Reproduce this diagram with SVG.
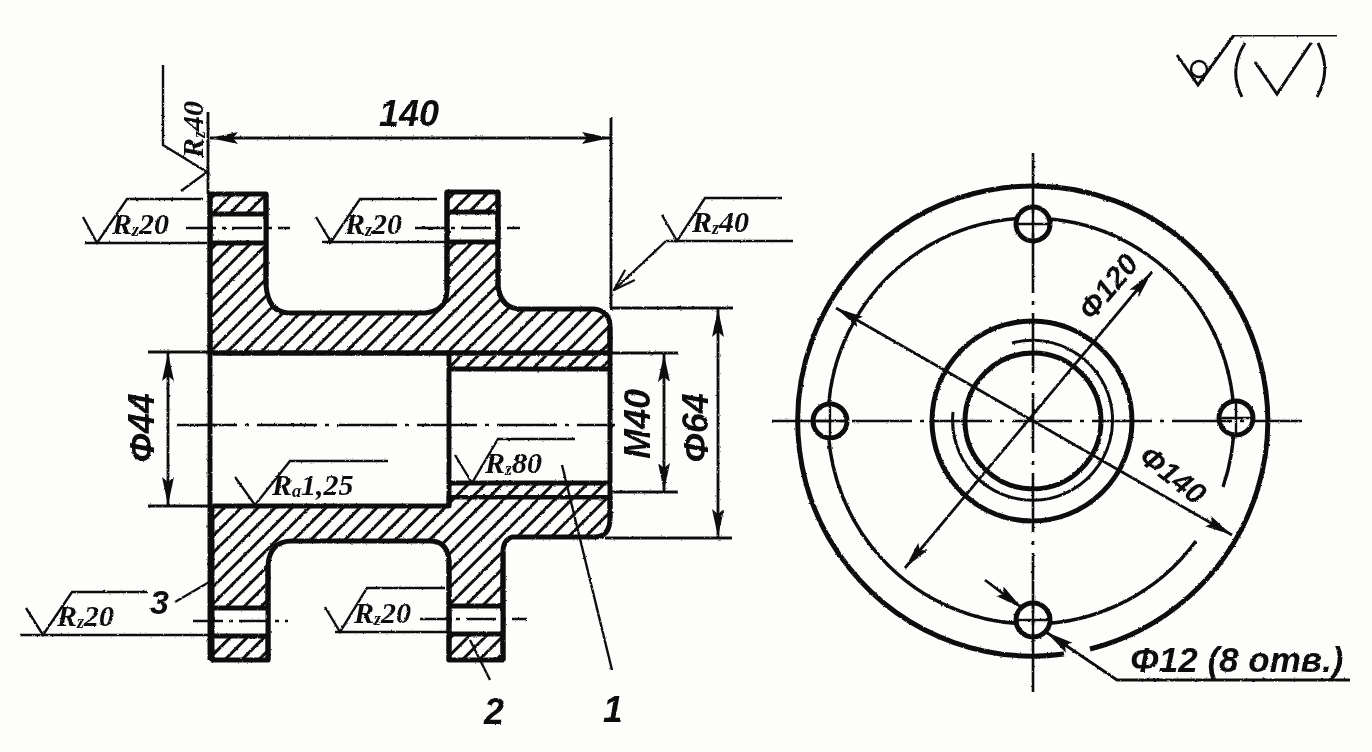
<svg xmlns="http://www.w3.org/2000/svg" width="1372" height="752" viewBox="0 0 1372 752">
<style>
.o{fill:none;stroke:#111;stroke-width:5;stroke-linejoin:round}
.t{fill:none;stroke:#111;stroke-width:2.8}
.m{fill:none;stroke:#111;stroke-width:2.4}
.c{fill:none;stroke:#111;stroke-width:2.6;stroke-dasharray:60 8 4 8}
.h{fill:none;stroke:#111;stroke-width:2.6;stroke-dasharray:30 6 4 6}
.x{fill:none;stroke:#111;stroke-width:2.4}
.r{font-family:"Liberation Serif",serif;font-weight:bold;font-style:italic;font-size:30px;fill:#111}
.d{font-family:"Liberation Sans",sans-serif;font-weight:bold;font-style:italic;font-size:36px;fill:#111}
.s{font-size:18px}
.w{fill:#fdfdfb;stroke:none}
</style>
<defs>
<pattern id="h" width="12" height="12" patternUnits="userSpaceOnUse" patternTransform="rotate(-45)">
<rect width="12" height="12" fill="#fdfdfb"/><rect width="12" height="3" fill="#111"/>
</pattern>
<marker id="a" viewBox="0 0 28 14" refX="28" refY="7" markerWidth="28" markerHeight="14" markerUnits="userSpaceOnUse" orient="auto-start-reverse"><path d="M0,1L28,7L0,13L5,7Z" fill="#111"/></marker>
<marker id="v" viewBox="0 0 24 16" refX="23" refY="8" markerWidth="24" markerHeight="16" markerUnits="userSpaceOnUse" orient="auto"><path d="M1,1L23,8L1,15" fill="none" stroke="#111" stroke-width="2.2"/></marker>
<filter id="rough" x="0" y="0" width="100%" height="100%"><feTurbulence type="fractalNoise" baseFrequency="0.35" numOctaves="2" seed="4"/><feDisplacementMap in="SourceGraphic" scale="2.2" xChannelSelector="R" yChannelSelector="G"/></filter>
</defs>
<rect width="1372" height="752" fill="#fdfdfb"/>

<g filter="url(#rough)">
<g id="section-view">
<path class="o" style="fill:url(#h)" d="M210,194H266V285Q268,312 288,313H425Q447,311 447,290V192H498V285Q500,308 520,309H594Q610,311 610,327V353H210Z"/>
<path class="o" style="fill:url(#h)" d="M212,506H449V497H610V518Q610,537 594,537H512Q503,540 503,552V660H449V560Q447,541 430,541H292Q270,541 268,565V660H212Z"/>
<rect class="w" x="213" y="216" width="51" height="27"/>
<rect class="w" x="450" y="214" width="45" height="28"/>
<rect class="w" x="215" y="608" width="51" height="28"/>
<rect class="w" x="452" y="606" width="49" height="28"/>
<path class="o" d="M210,214H266M210,243H266M447,212H498M447,242H498M212,608H268M212,636H268M449,606H503M449,634H503"/>
<path class="o" d="M210,194V660M266,194V285M447,192V290M498,192V285M268,565V660M449,560V660M503,552V660"/>
<rect x="450" y="356" width="159" height="12" style="fill:url(#h)"/>
<rect x="450" y="485" width="159" height="10" style="fill:url(#h)"/>
<path class="o" d="M449,353V505M449,369H610M449,483H610M610,327V518M210,353H610"/>
</g>

<g id="front-view">
<path class="o" d="M1064,654A235,235 0 1 1 1090,649"/>
<path class="o" style="stroke-width:3.5" d="M1223,487A203,203 0 1 0 1033,624A203,203 0 0 0 1196,541"/>
<circle class="o" cx="1032" cy="421" r="100"/>
<circle class="o" cx="1033" cy="421" r="68"/>
<path class="o" style="stroke-width:3" d="M1012,343A80,80 0 1 1 953,412"/>
<g id="hole-top"><circle class="o" style="fill:#fdfdfb" cx="1033" cy="224" r="17"/><path class="x" d="M1016,224H1050M1033,207V241"/></g>
<g id="hole-left"><circle class="o" style="fill:#fdfdfb" cx="830" cy="421" r="17"/><path class="x" d="M813,421H847M830,404V438"/></g>
<g id="hole-right"><circle class="o" style="fill:#fdfdfb" cx="1236" cy="418" r="17"/><path class="x" d="M1219,418H1253M1236,401V435"/></g>
<g id="hole-bottom"><circle class="o" style="fill:#fdfdfb" cx="1033" cy="620" r="17"/><path class="x" d="M1016,620H1050M1033,603V637"/></g>
</g>

<g id="connectors">
<path class="c" d="M177,425H615"/>
<path class="h" d="M186,228H290"/>
<path class="h" d="M415,228H520"/>
<path class="h" d="M193,621H288"/>
<path class="h" d="M420,619H527"/>
<path class="c" d="M772,421H1302"/>
<path class="c" d="M1033,153V692"/>
<path class="t" d="M208,112V194M611,118V310"/>
<path class="t" marker-start="url(#a)" marker-end="url(#a)" d="M210,138H610"/>
<path class="t" d="M148,352H210M148,506H212M610,353H678M610,492H678M611,308H733M605,538H732"/>
<path class="t" marker-start="url(#a)" marker-end="url(#a)" d="M168,353V505"/>
<path class="t" marker-start="url(#a)" marker-end="url(#a)" d="M664,354V491"/>
<path class="t" marker-start="url(#a)" marker-end="url(#a)" d="M718,309V537"/>
<path class="m" d="M163,65V145L207,172L181,191"/>
<path class="m" d="M83,217L97,243L127,199H203M85,243H207"/>
<path class="m" d="M316,217L331,242L360,199H437M322,242H447"/>
<path class="m" d="M26,608L43,635L72,592H147M20,635H212"/>
<path class="m" d="M325,607L340,632L367,588H445M335,632H449"/>
<path class="m" d="M662,215L677,241L705,198H782M666,241H793"/>
<path class="m" marker-end="url(#v)" d="M666,241L614,290"/>
<path class="m" d="M235,477L255,505L290,461H388"/>
<path class="m" d="M455,455L472,483L498,439H575"/>
<path class="m" d="M562,465L612,670"/>
<path class="m" d="M470,640L490,680"/>
<path class="m" d="M175,602L211,581"/>
<path class="t" marker-start="url(#a)" marker-end="url(#a)" d="M836,308L1232,535"/>
<path class="t" marker-start="url(#a)" marker-end="url(#a)" d="M1152,272L905,568"/>
<path class="t" marker-end="url(#a)" d="M985,580L1022,608"/>
<path class="t" marker-start="url(#a)" d="M1046,632L1117,680H1350"/>
<path class="m" style="stroke-width:3" d="M1177,55L1198,85L1234,35H1337"/>
<path class="m" style="stroke-width:3" d="M1245,43Q1228,70 1242,97M1255,62L1277,94L1311,43M1318,43Q1332,70 1317,97"/>
<circle class="m" cx="1199" cy="69" r="8"/>
</g>

<g id="labels">
<text class="d" x="379" y="126">140</text>
<text class="d" transform="translate(154,428) rotate(-90)" text-anchor="middle">Φ44</text>
<text class="d" transform="translate(650,424) rotate(-90)" text-anchor="middle">M40</text>
<text class="d" transform="translate(708,428) rotate(-90)" text-anchor="middle">Φ64</text>
<text class="d" x="150" y="614" style="font-size:34px">3</text>
<text class="d" x="484" y="724">2</text>
<text class="d" x="603" y="722">1</text>
<text class="r" transform="translate(203,158) rotate(-90)">R<tspan class="s" dy="2">z</tspan><tspan dy="-2">40</tspan></text>
<text class="r" x="112" y="234">R<tspan class="s" dy="2">z</tspan><tspan dy="-2">20</tspan></text>
<text class="r" x="345" y="234">R<tspan class="s" dy="2">z</tspan><tspan dy="-2">20</tspan></text>
<text class="r" x="57" y="626">R<tspan class="s" dy="2">z</tspan><tspan dy="-2">20</tspan></text>
<text class="r" x="354" y="623">R<tspan class="s" dy="2">z</tspan><tspan dy="-2">20</tspan></text>
<text class="r" x="692" y="232">R<tspan class="s" dy="2">z</tspan><tspan dy="-2">40</tspan></text>
<text class="r" x="272" y="495">R<tspan class="s" dy="2">a</tspan><tspan dy="-2">1,25</tspan></text>
<text class="r" x="485" y="473">R<tspan class="s" dy="2">z</tspan><tspan dy="-2">80</tspan></text>
<text class="d" style="font-size:30px" transform="translate(1092,322) rotate(-50)">Φ120</text>
<text class="d" style="font-size:30px" transform="translate(1137,460) rotate(38)">Φ140</text>
<text class="d" style="font-size:35px" x="1130" y="672">Φ12 (8 отв.)</text>
</g>
</g>
</svg>
